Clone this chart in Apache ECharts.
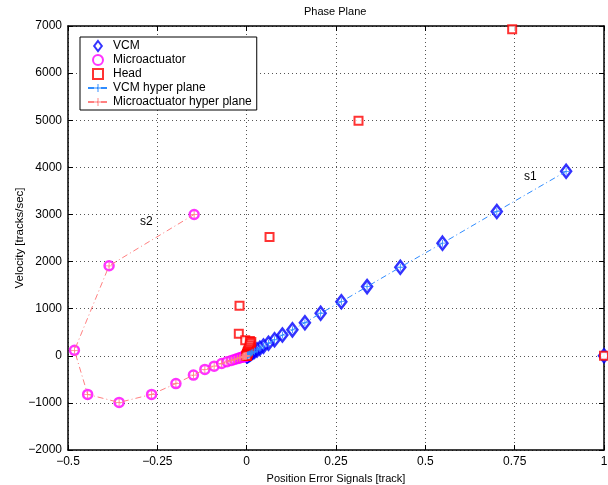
<!DOCTYPE html>
<html><head><meta charset="utf-8">
<script src="https://cdn.jsdelivr.net/npm/echarts@6/dist/echarts.min.js"></script>
<style>html,body{margin:0;padding:0;background:#fff}#c{width:608px;height:485px}</style>
</head><body><div id="c"></div>
<script>
const xTicks = [-0.5, -0.25, 0, 0.25, 0.5, 0.75, 1];
const yTicks = [-2000, -1000, 0, 1000, 2000, 3000, 4000, 5000, 6000, 7000];
const vcmPos = [1.0, 0.894, 0.700, 0.548, 0.430, 0.337, 0.265, 0.207, 0.163, 0.128, 0.100, 0.078, 0.061, 0.047, 0.037, 0.029, 0.022, 0.017, 0.013, 0.010, 0.008, 0.006, 0.004, 0.003, 0.002, 0.001, 0.0];
const vcmVel = [0, 3915, 3064, 2391, 1880, 1468, 1149, 902, 702, 550, 440, 340, 265, 205, 160, 125, 97, 75, 58, 45, 35, 27, 18, 13, 9, 4, 0];
const microPos = [0, -0.147, -0.385, -0.482, -0.445, -0.357, -0.266, -0.198, -0.149, -0.117, -0.091, -0.070, -0.055, -0.043, -0.034, -0.026, -0.020, -0.016, -0.012, -0.009, -0.007, -0.005, -0.004, -0.003, -0.002, -0.001, 0];
const microVel = [0, 3000, 1910, 115, -820, -990, -820, -590, -410, -290, -220, -165, -128, -100, -78, -60, -46, -36, -28, -22, -17, -13, -10, -7, -5, -3, 0];
const headPos = [1.0, 0.743, 0.313, 0.064, -0.020, -0.022, -0.004, 0.009, 0.013, 0.011, 0.009, 0.008, 0.006, 0.004, 0.003, 0.003, 0.002, 0.001, 0.001, 0.001, 0.001, 0.001, 0, 0, 0, 0, 0];
const headVel = [0, 6930, 4990, 2520, 1060, 470, 330, 312, 292, 260, 220, 175, 137, 105, 82, 65, 51, 39, 30, 23, 18, 14, 8, 6, 4, 1, 0];

const zip = (a, b) => a.map((v, i) => [v, b[i]]);
const vcmData = zip(vcmPos, vcmVel);
const microData = zip(microPos, microVel);
const headData = zip(headPos, headVel);
const vcmPlane = vcmData.slice(1);
const microPlane = microData.slice(1);

const FONT = 'Liberation Sans, Arial, sans-serif';
const PLUS = 'path://M4.4,0h1.2v4.4h4.4v1.2h-4.4v4.4h-1.2v-4.4h-4.4v-1.2h4.4z';
const DIAM = 'path://M5,0L10,6.5L5,13L0,6.5Z';
const SQR = 'path://M0,0h10v10h-10z';
const fmt = v => String(v).replace('-', '\u2212');
const dash = [6, 3, 1, 3];

const chart = echarts.init(document.getElementById('c'), null, {renderer: 'canvas'});
const axisCommon = {
  axisLine: {show: true, onZero: false, lineStyle: {color: '#000', width: 1.5}},
  axisTick: {show: true, inside: true, length: 5, lineStyle: {color: '#000'}},
};
chart.setOption({
  animation: false,
  backgroundColor: '#fff',
  grid: {left: 68, right: 4, top: 26, bottom: 35, containLabel: false, outerBoundsMode: 'none'},
  xAxis: [
    Object.assign({}, axisCommon, {
      type: 'value', min: xTicks[0], max: xTicks[xTicks.length - 1], interval: 0.25, position: 'bottom',
      axisLabel: {color: '#000', fontSize: 12, fontFamily: FONT, formatter: fmt, margin: 6},
      splitLine: {show: true, lineStyle: {color: '#555', type: [1, 3], width: 1}},
      name: 'Position Error Signals [track]', nameLocation: 'middle', nameGap: 23, nameMoveOverlap: false,
      nameTextStyle: {color: '#000', fontSize: 11, fontFamily: FONT}
    }),
    Object.assign({}, axisCommon, {
      type: 'value', min: xTicks[0], max: xTicks[xTicks.length - 1], interval: 0.25, position: 'top',
      axisLabel: {show: false}, splitLine: {show: false}
    })
  ],
  yAxis: [
    Object.assign({}, axisCommon, {
      type: 'value', min: yTicks[0], max: yTicks[yTicks.length - 1], interval: 1000, position: 'left',
      axisLabel: {color: '#000', fontSize: 12, fontFamily: FONT, formatter: fmt, margin: 6},
      splitLine: {show: true, lineStyle: {color: '#555', type: [1, 3], width: 1}},
      name: 'Velocity [tracks/sec]', nameLocation: 'middle', nameGap: 42, nameMoveOverlap: false,
      nameTextStyle: {color: '#000', fontSize: 11.5, fontFamily: FONT}
    }),
    Object.assign({}, axisCommon, {
      type: 'value', min: yTicks[0], max: yTicks[yTicks.length - 1], interval: 1000, position: 'right',
      axisLabel: {show: false}, splitLine: {show: false}
    })
  ],
  legend: {
    orient: 'vertical', left: 80, top: 37, padding: [3, 5, 2, 7],
    borderColor: '#000', borderWidth: 1, backgroundColor: '#fff',
    itemWidth: 20, itemHeight: 10, itemGap: 2,
    textStyle: {color: '#000', fontSize: 12, fontFamily: FONT},
    data: [
      {name: 'VCM', icon: DIAM},
      {name: 'Microactuator', icon: 'path://M0,0A5,5 0 1 1 0,0.01Z'},
      {name: 'Head', icon: SQR},
      {name: 'VCM hyper plane'},
      {name: 'Microactuator hyper plane'}
    ]
  },
  graphic: [
    {type: 'text', left: 304, top: 6, style: {text: 'Phase Plane', fill: '#000', font: '11px ' + FONT}},
    {type: 'text', left: 524, top: 171, style: {text: 's1', fill: '#000', font: '12px ' + FONT}},
    {type: 'text', left: 140, top: 216, style: {text: 's2', fill: '#000', font: '12px ' + FONT}}
  ],
  series: [
    {name: 'VCM', type: 'scatter', data: vcmData, clip: false, symbol: 'diamond', symbolSize: [10, 13],
     itemStyle: {color: '#fff', borderColor: '#0000ff', borderWidth: 2.5}, z: 3},
    {name: 'Microactuator', type: 'scatter', data: microData, clip: false, symbol: 'circle', symbolSize: 9,
     itemStyle: {color: '#fff', borderColor: '#ff00ff', borderWidth: 2.5}, z: 3},
    {name: 'Head', type: 'scatter', data: headData, clip: false, symbol: 'rect', symbolSize: 8,
     itemStyle: {color: '#fff', borderColor: '#ff0000', borderWidth: 2}, z: 3},
    {name: 'VCM hyper plane', type: 'line', data: vcmPlane, clip: false, symbol: PLUS, symbolSize: 7, showSymbol: true,
     lineStyle: {color: '#2f8cff', width: 1, type: dash}, itemStyle: {color: '#2f8cff'}, z: 4},
    {name: 'Microactuator hyper plane', type: 'line', data: microPlane, clip: false, symbol: PLUS, symbolSize: 7, showSymbol: true,
     lineStyle: {color: '#ff8080', width: 1, type: dash}, itemStyle: {color: '#ff8080'}, z: 4}
  ]
});
</script></body></html>
